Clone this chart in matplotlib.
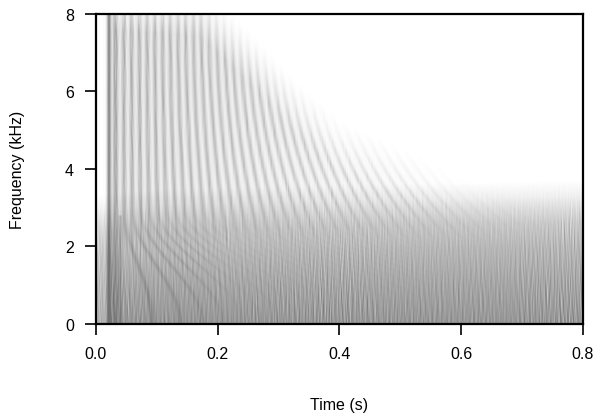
import numpy as np
import matplotlib.pyplot as plt

plt.rcParams['font.family'] = ['Liberation Sans', 'DejaVu Sans']

# grid of the spectrogram picture (about one cell per screen pixel)
t = np.linspace(0, 0.8, 490)
f = np.linspace(0, 8, 312)
T, F = np.meshgrid(t, f)

t_onset = 0.0195
stripe_period = 0.0127
stripe_width = 0.0036

# upper edge of the striated part (s, kHz)
edge_t = [0.0, 0.17, 0.25, 0.335, 0.40, 0.53, 0.61, 0.70, 0.80]
edge_f = [9.0, 8.8, 7.6, 6.2, 5.3, 4.4, 3.7, 3.3, 3.1]

# strength of the stripes over time
amp_t = [0.0, 0.02, 0.1, 0.2, 0.3, 0.4, 0.5, 0.6, 0.7, 0.8]
amp_v = [0.30, 0.30, 0.28, 0.25, 0.21, 0.17, 0.14, 0.11, 0.07, 0.05]

# top of the low noisy band (kHz)
band_t = [0.0, 0.1, 0.4, 0.8]
band_f = [2.7, 2.8, 2.9, 3.0]

# darkness of the noisy band against frequency
prof_f = [0.0, 0.3, 1.0, 2.0, 2.6, 3.0, 3.3, 3.7]
prof_d = [0.41, 0.39, 0.35, 0.28, 0.21, 0.13, 0.06, 0.0]

# arcs in the band at the start
arc_t = [0.0, 0.05, 0.15, 0.22, 0.8]
arc_v = [0.15, 0.15, 0.09, 0.02, 0.0]

# streaky texture from many waves (spread by quadratic Weyl sequences)
n_tex = 250
k = np.arange(1, n_tex + 1)
tex_ft = 100 + 180 * ((k * 0.6180340 + k * k * 0.0731) % 1)
tex_ff = -1.3 + 2.6 * ((k * 0.4142136 + k * k * 0.2871) % 1)
tex_ph = 2 * np.pi * ((k * 0.7320508 + k * k * 0.1618) % 1)

tex = np.zeros_like(T)
for a, b, ph in zip(tex_ft, tex_ff, tex_ph):
    tex += np.cos(2 * np.pi * (a * T + b * F) + ph)
tex /= np.sqrt(n_tex / 2)

# noisy low band
top = np.interp(T, band_t, band_f)
fn = F * 3.0 / top
d_band = np.interp(fn, prof_f, prof_d) * (1 - 0.13 * tex)
d_band *= np.where(T < t_onset, 0.75, 1.0)

# striations, bending to later times at lower frequency
taus = t_onset + stripe_period * np.arange(1, 64)
p_hi = np.zeros_like(T)
p_lo = np.zeros_like(T)
lo = np.where(F < 3.0, 0.5 * (1 + np.cos(np.pi * F / 3.0)), 0.0)
for tau in taus:
    c = tau + 2.0 * (tau - t_onset) ** 2 * ((8 - F) / 8) ** 2
    p_hi += np.exp(-((T - c) / stripe_width) ** 2)
    a_lo = 0.55 * np.sqrt(max(tau - 0.038, 0))
    p_lo += np.exp(-((T - c - a_lo * lo) / stripe_width) ** 2)
p_hi = np.clip(p_hi, 0, 1)
p_lo = np.clip(p_lo, 0, 1)

edge = np.interp(T, edge_t, edge_f)
fade = np.clip((edge - F) / 1.4, 0, 1) ** 1.3
above = np.clip((F - (top - 0.9)) / 1.3, 0, 1)
amp = np.interp(T, amp_t, amp_v)
d_str = amp * fade * above * (0.22 + 0.78 * p_hi) * (1 - 0.12 * tex)
d_str *= (T > t_onset)
d_arc = np.interp(T, arc_t, arc_v) * p_lo * (1 - above) * (T > t_onset)

# onset lines
d_on = 0.42 * np.exp(-((T - 0.0205) / 0.0035) ** 2)
d_on += 0.15 * np.exp(-((T - 0.029) / 0.002) ** 2)
d_on += 0.18 * np.exp(-((T - 0.039) / 0.002) ** 2) * (F < 2.8)

d = 1 - (1 - np.clip(d_band, 0, 1)) * (1 - np.clip(d_str, 0, 1)) \
      * (1 - d_arc) * (1 - d_on)
gray = 1 - np.clip(d, 0, 0.55)

fig = plt.figure(figsize=(5.98, 4.14), dpi=100)
ax = fig.add_axes([0.1605, 0.215, 0.8144, 0.7488])
ax.imshow(gray, cmap='gray', vmin=0, vmax=1, origin='lower',
          extent=[0, 0.8, 0, 8], aspect='auto', interpolation='bilinear')
ax.set_xlim(0, 0.8)
ax.set_ylim(0, 8)
ax.set_xticks([0, 0.2, 0.4, 0.6, 0.8])
ax.set_yticks([0, 2, 4, 6, 8])
for sp in ax.spines.values():
    sp.set_linewidth(1.6)
ax.tick_params(direction='out', length=8, width=1.2, pad=8, labelsize=11.5)
ax.set_xlabel('Time (s)', fontsize=11.5)
ax.set_ylabel('Frequency (kHz)', fontsize=11.5)
ax.xaxis.set_label_coords(0.5, -0.235)
ax.yaxis.set_label_coords(-0.146, 0.5)
fig.savefig('out.png', dpi=100)
